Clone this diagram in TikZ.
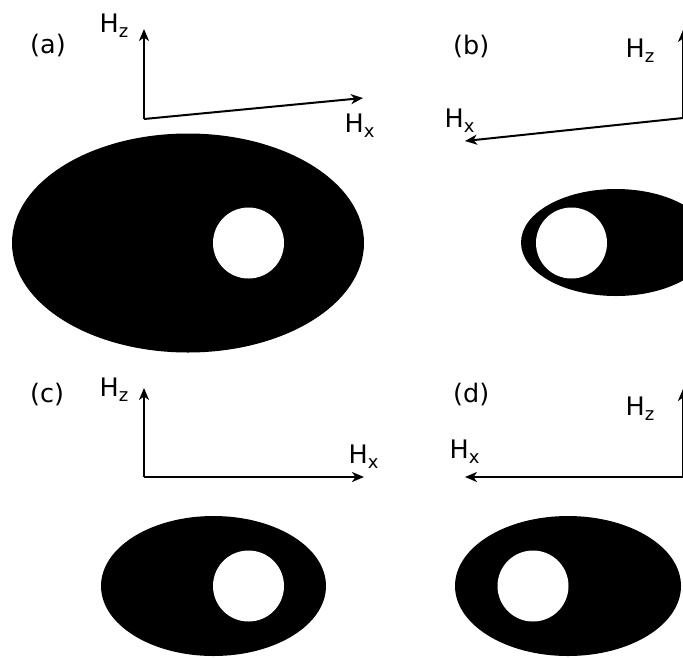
\documentclass[tikz,border=0pt]{standalone}
\usepackage{fontspec}
\setmainfont{DejaVu Sans}
\usetikzlibrary{arrows.meta}
\newcommand\mysub[1]{\raisebox{-5pt}{\fontsize{18}{18}\selectfont #1}}
\tikzset{
  axis/.style={line width=2pt,-{Stealth[length=12pt,width=10pt,inset=3.5pt]}},
  lbl/.style={inner sep=0pt,anchor=base west,font=\fontsize{25.5}{28}\selectfont},
  blob/.style={fill=black},
  hole/.style={fill=white}
}
\begin{document}
\begin{tikzpicture}[x=1pt,y=-1pt]
\useasboundingbox (0,0) rectangle (683,657);
\clip (0,0) rectangle (683,657);
% (a)
\node[lbl] (la) at (30,53) {(a)};
\coordinate (oa) at (144,119);
\coordinate (za) at (144,29);
\coordinate (xa) at (363,98);
\draw[axis] (oa) -- (za);
\draw[axis] (oa) -- (xa);
\node[lbl] (hza) at (99.5,32) {H\mysub{z}};
\node[lbl] (hxa) at (344.5,132) {H\mysub{x}};
\fill[blob] (188,243) ellipse [x radius=176,y radius=109.5];
\fill[hole] (248.5,243) circle [radius=35.5];
% (b)
\node[lbl] (lb) at (453,54) {(b)};
\coordinate (ob) at (683,118);
\coordinate (zb) at (683,30);
\coordinate (xb) at (465,141);
\draw[axis] (ob) -- (zb);
\draw[axis] (ob) -- (xb);
\node[lbl] (hzb) at (625.5,57) {H\mysub{z}};
\node[lbl] (hxb) at (444.5,127) {H\mysub{x}};
\fill[blob] (616,242.5) ellipse [x radius=95,y radius=53.5];
\fill[hole] (571.5,243) circle [radius=35.5];
% (c)
\node[lbl] (lc) at (30,402) {(c)};
\coordinate (oc) at (144,477);
\coordinate (zc) at (144,388);
\coordinate (xc) at (364,477);
\draw[axis] (oc) -- (zc);
\draw[axis] (oc) -- (xc);
\node[lbl] (hzc) at (99.5,396) {H\mysub{z}};
\node[lbl] (hxc) at (348.5,463) {H\mysub{x}};
\fill[blob] (213.5,586) ellipse [x radius=112.5,y radius=70];
\fill[hole] (248.5,586) circle [radius=35.5];
% (d)
\node[lbl] (ld) at (453,402) {(d)};
\coordinate (od) at (683,477);
\coordinate (zd) at (683,389);
\coordinate (xd) at (465,477);
\draw[axis] (od) -- (zd);
\draw[axis] (od) -- (xd);
\node[lbl] (hzd) at (625.5,415) {H\mysub{z}};
\node[lbl] (hxd) at (449.5,458) {H\mysub{x}};
\fill[blob] (568,586) ellipse [x radius=113,y radius=70];
\fill[hole] (533,586) circle [radius=35.5];
\end{tikzpicture}
\end{document}
